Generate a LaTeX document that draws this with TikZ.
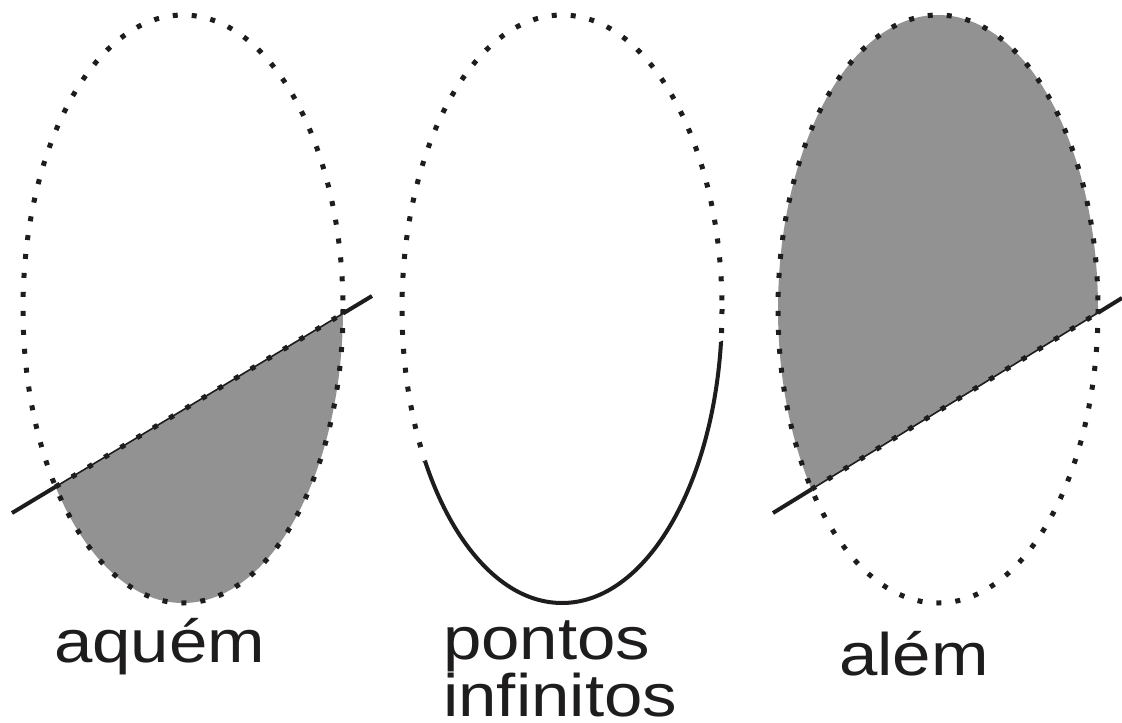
\documentclass[tikz,border=0pt]{standalone}
\usepackage{fontspec}
\setmainfont[FakeStretch=1.15]{Liberation Sans}
\usetikzlibrary{intersections}
\definecolor{shadegray}{RGB}{146,146,146}
\definecolor{ink}{RGB}{30,28,28}
\begin{document}
\begin{tikzpicture}[x=1pt,y=-1pt,
  dotline/.style={draw=ink, line width=5pt, dash pattern=on 5pt off 14pt, line cap=butt},
  thinline/.style={draw=ink, line width=1.6pt},
  thickline/.style={draw=ink, line width=4pt},
  label/.style={inner sep=0pt, font=\fontsize{60}{55}\selectfont, text=ink}]
\useasboundingbox (0,0) rectangle (1122,723);

% ---------- ellipse 1 (aquem) ----------
\coordinate (c1) at (183,309);
\coordinate (a1) at (12,513);
\coordinate (b1) at (372,296);
\begin{scope}
  \clip (c1) ellipse [x radius=160, y radius=294];
  \fill[shadegray] (0,520.2) -- (400,279) -- (400,723) -- (0,723) -- cycle;
\end{scope}
\path[name path=e1] (c1) ellipse [x radius=160, y radius=294];
\path[name path=l1] (a1) -- (b1);
\path[name intersections={of=e1 and l1, by={p1,q1}, sort by=l1}];
\draw[dotline] (c1) ellipse [x radius=160, y radius=294];
\draw[thinline] (p1) -- (q1);
\draw[dotline] (p1) -- (q1);
\draw[thickline] (a1) -- (p1);
\draw[thickline] (q1) -- (b1);

% ---------- ellipse 2 (pontos infinitos) ----------
\coordinate (c2) at (562,309);
\begin{scope}
  \clip (380,479.4) -- (760,325.5) -- (760,0) -- (380,0) -- cycle;
  \draw[dotline] (c2) ellipse [x radius=160, y radius=294];
\end{scope}
\begin{scope}
  \clip (380,479.4) -- (760,325.5) -- (760,723) -- (380,723) -- cycle;
  \draw[thickline] (c2) ellipse [x radius=160, y radius=294];
\end{scope}

% ---------- ellipse 3 (alem) ----------
\coordinate (c3) at (938,309);
\coordinate (a3) at (773,513);
\coordinate (b3) at (1122,298);
\begin{scope}
  \clip (c3) ellipse [x radius=160, y radius=294];
  \fill[shadegray] (760,521) -- (1130,293) -- (1130,0) -- (760,0) -- cycle;
\end{scope}
\path[name path=e3] (c3) ellipse [x radius=160, y radius=294];
\path[name path=l3] (a3) -- (b3);
\path[name intersections={of=e3 and l3, by={p3,q3}, sort by=l3}];
\draw[dotline] (c3) ellipse [x radius=160, y radius=294];
\draw[thinline] (p3) -- (q3);
\draw[dotline] (p3) -- (q3);
\draw[thickline] (a3) -- (p3);
\draw[thickline] (q3) -- (b3);

% ---------- labels ----------
\node[label, anchor=base west] (t1) at (54,662) {aquém};
\node[label, anchor=south west, align=left, text depth=0pt] (t2) at (443,717) {pontos\\infinitos};
\node[label, anchor=base west] (t3) at (839,675) {além};
\end{tikzpicture}
\end{document}
